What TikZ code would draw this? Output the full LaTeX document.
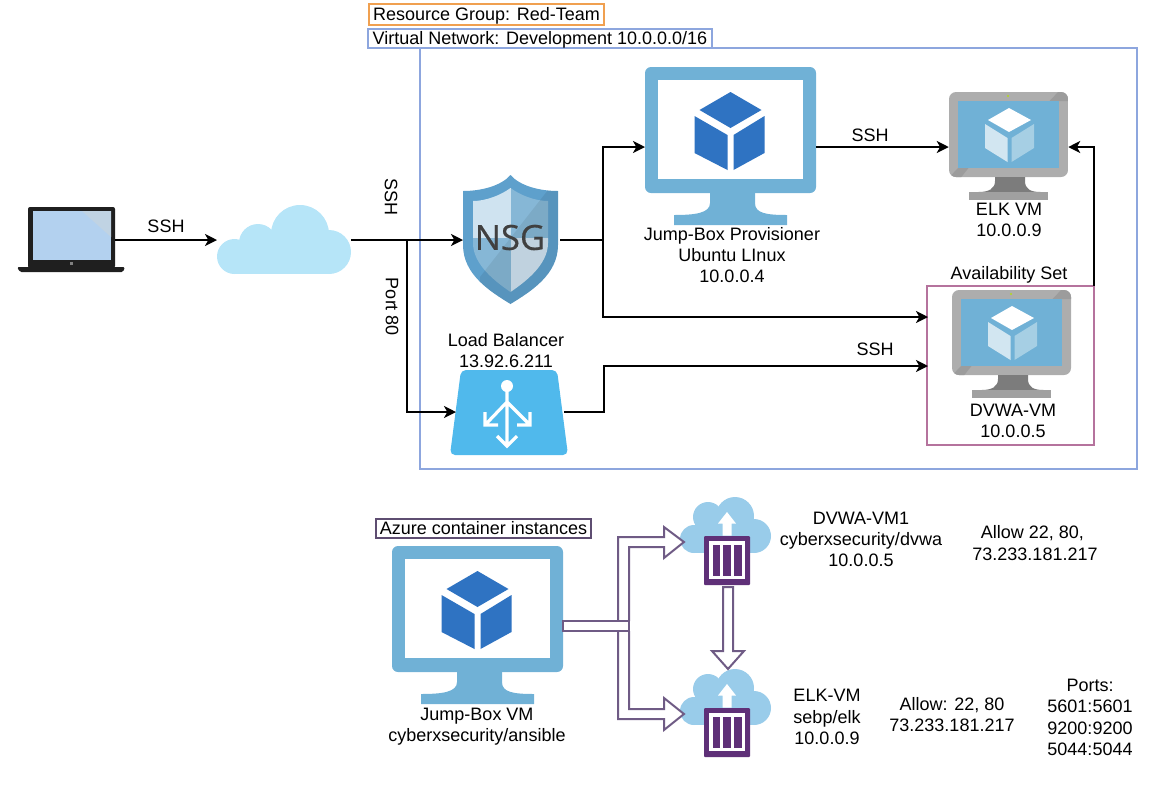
\documentclass[tikz,border=0pt]{standalone}
\usepackage{fontspec}
\setmainfont{Liberation Sans}
\newfontfamily\nsgfont[FakeBold=0.4]{Open Sans}
\usetikzlibrary{arrows.meta}

\definecolor{monblue}{HTML}{70B1D6}
\definecolor{cubeblue}{HTML}{2F73C2}
\definecolor{netblue}{HTML}{8DA6DE}
\definecolor{rgorange}{HTML}{F0A050}
\definecolor{setpink}{HTML}{B5739D}
\definecolor{flowpurple}{HTML}{6F5B85}
\definecolor{boxpurple}{HTML}{5F3078}
\definecolor{cloudpale}{HTML}{B6E5F8}
\definecolor{cloudmid}{HTML}{99CCEA}
\definecolor{lbblue}{HTML}{50B9EC}
\definecolor{shieldblue}{HTML}{5EA0CC}
\definecolor{shieldpale}{HTML}{CFE3F0}
\definecolor{shieldmid}{HTML}{86B7D6}
\definecolor{laptopblue}{HTML}{B3D1EF}
\definecolor{laptopglare}{HTML}{C0D3E3}
\definecolor{facepale}{HTML}{D2E6F1}
\definecolor{facemid}{HTML}{A6CFE4}
\definecolor{bezelgrey}{HTML}{ADADAD}
\definecolor{wedgegrey}{HTML}{9C9C9C}
\definecolor{standgrey}{HTML}{7C7C7C}
\definecolor{basegrey}{HTML}{A0A0A0}

\def\px{0.75pt}

\tikzset{
  conn/.style={line width=1.5pt,-{Stealth[length=9pt,width=9pt,inset=2.5pt]}},
  plainconn/.style={line width=1.5pt},
  lbl/.style={align=center,inner sep=0pt},
  iconbox/.style={inner sep=0pt,outer sep=0pt,minimum height=20*\px},
  tagbox/.style={draw,line width=1.5pt,inner sep=0pt,outer sep=0pt,minimum height=19*\px,text height=11.3pt,text depth=2pt},
  flow/.style={draw=flowpurple,fill=white,line width=1.5pt},
  % blue monitor, origin is the middle of the cube
  monitorblue/.pic={
    \fill[monblue,rounded corners=6*\px] (-85.5,-61) rectangle (85.5,65);
    \fill[white] (-72.5,-48) rectangle (72.5,51);
    \fill[monblue] (-20.5,65) -- (-20.5,75) .. controls (-20.5,85) and (-35,87) .. (-56.5,87)
      -- (-56.5,97) -- (56.5,97) -- (56.5,87) .. controls (35,87) and (24.5,85) .. (24.5,75)
      -- (24.5,65) -- cycle;
    \fill[cubeblue] (0,-36) -- (31,-18) -- (0,0) -- (-31,-18) -- cycle;
    \fill[cubeblue] (-36,-12) -- (-3,7) -- (-3,42) -- (-36,25) -- cycle;
    \fill[cubeblue] (3,7) -- (34,-12) -- (34,25) -- (3,42) -- cycle;
  },
  % grey monitor, origin is the middle of the cube
  monitorgrey/.pic={
    \begin{scope}
    \clip[rounded corners=7*\px] (-59.5,-41) rectangle (59.5,44);
    \fill[bezelgrey] (-60,-42) rectangle (60,45);
    \fill[wedgegrey] (-50.5,35) -- (-40,35) -- (-48,45) -- (-60,45) -- cycle;
    \fill[wedgegrey] (50.5,-32) -- (41,-32) -- (50.5,-42) -- (60,-42) -- (60,-32) -- cycle;
    \end{scope}
    \fill[monblue] (-50.5,-32) rectangle (50.5,35);
    \fill[standgrey] (-13.5,44) -- (-13.5,48) .. controls (-13.5,56) and (-20,59) .. (-30,59)
      -- (32,59) .. controls (22,59) and (16.5,56) .. (16.5,48) -- (16.5,44) -- cycle;
    \fill[basegrey] (-39.5,59) rectangle (39.5,67);
    \fill[yellow!70!green] (-0.5,-37) circle (1.2);
    \fill[white] (0.5,-25) -- (22.5,-13) -- (0.5,-1) -- (-20.5,-13) -- cycle;
    \fill[facepale] (-23.5,-9) -- (-1,5) -- (-1,29) -- (-23.5,15) -- cycle;
    \fill[facemid] (3,5) -- (25.5,-9) -- (25.5,15) -- (3,29) -- cycle;
  },
  % container cloud, origin is the middle of the square
  containericon/.pic={
    \fill[cloudmid] (-33,-21.5) circle (14);
    \fill[cloudmid] (-19,-43.5) circle (15);
    \fill[cloudmid] (8,-44.5) circle (19);
    \fill[cloudmid] (27,-24.5) circle (17);
    \fill[cloudmid] (-33,-35) rectangle (27,-7.5);
    \fill[cloudmid] (-19,-45) rectangle (27,-20);
    \fill[white] (-4.5,-25) -- (-4.5,-37) -- (-9,-37) -- (0,-48.5) -- (9,-37) -- (4.5,-37) -- (4.5,-25) -- cycle;
    \fill[boxpurple,rounded corners=1*\px] (-23,-24.5) rectangle (23,24.5);
    \fill[white] (-18,-19.5) rectangle (18,18.5);
    \fill[boxpurple] (-14.3,-15.5) rectangle (-7,15.5);
    \fill[boxpurple] (-3.7,-15.5) rectangle (3.7,15.5);
    \fill[boxpurple] (7.3,-15.5) rectangle (14.7,15.5);
  }
}

\begin{document}
\begin{tikzpicture}[x=0.75pt,y=-0.75pt,font=\fontsize{13.5}{16}\selectfont]
\useasboundingbox (0,0) rectangle (1172,794);

% Network frames and their labels
\node[iconbox,draw=netblue,line width=1.5pt,minimum width=717*\px,minimum height=421*\px] (vnet) at (778.5,258.5) {};
\node[tagbox,draw=rgorange,minimum width=235*\px,minimum height=21*\px] (rgtag) at (486.5,14.5) {Resource Group: Red-Team};
\node[tagbox,draw=netblue,minimum width=344*\px] (vnettag) at (540,38.5) {Virtual Network: Development 10.0.0.0/16};

% Laptop
\fill[black!88,rounded corners=2*\px] (28,207) rectangle (115,268);
\fill[black!88,rounded corners=1.5*\px] (17,267) -- (125,267) -- (123,272) -- (20,272) -- cycle;
\fill[laptopblue] (33,211) rectangle (111,260);
\fill[laptopglare] (82,211) -- (111,211) -- (111,237) -- cycle;
\fill[gray] (69.5,261.5) rectangle (72.5,264.5);
\node[iconbox,minimum width=87*\px] (laptop) at (71.5,240) {};

% Cloud
\fill[cloudpale] (234.5,256.5) circle (17.5);
\fill[cloudpale] (258,243) circle (19);
\fill[cloudpale] (300,234) circle (29);
\fill[cloudpale] (329,252) circle (22);
\fill[cloudpale] (234.5,245) rectangle (329,274);
\node[iconbox,minimum width=134*\px] (cloud) at (284,240) {};

% NSG shield
\fill[shieldblue] (510.5,175) .. controls (520,186) and (540,191) .. (558,191) -- (558,245)
  .. controls (558,275) and (530,292) .. (510.5,304) .. controls (491,292) and (463,275) .. (463,245)
  -- (463,191) .. controls (481,191) and (501,186) .. (510.5,175) -- cycle;
\begin{scope}
\clip (510.5,188) .. controls (520,195) and (535,201) .. (548,201) -- (548,243)
  .. controls (548,265) and (525,282) .. (510.5,292) .. controls (496,282) and (473,265) .. (473,243)
  -- (473,201) .. controls (486,201) and (501,195) .. (510.5,188) -- cycle;
\fill[shieldpale] (463,175) rectangle (510.5,238);
\fill[shieldmid] (510.5,175) rectangle (558,238);
\fill[shieldmid] (463,238) rectangle (510.5,304);
\fill[shieldpale] (510.5,238) rectangle (558,304);
\end{scope}
\begin{scope}
\clip (510.5,175) .. controls (520,186) and (540,191) .. (558,191) -- (558,245)
  .. controls (558,275) and (530,292) .. (510.5,304) .. controls (491,292) and (463,275) .. (463,245)
  -- (463,191) .. controls (481,191) and (501,186) .. (510.5,175) -- cycle;
\fill[black,opacity=0.07] (480,277) -- (548,190) -- (570,190) -- (570,310) -- (480,310) -- cycle;
\end{scope}
\node[lbl,text=black!75,font=\nsgfont\fontsize{26}{26}\selectfont] (nsgtext) at (510,237.5) {NSG};
\node[iconbox,minimum width=97*\px] (nsg) at (511.5,240) {};

% Load balancer
\fill[lbblue,rounded corners=5*\px] (461,370) -- (557,370) -- (568,455) -- (450,455) -- cycle;
\draw[white,line width=2.4pt] (507,386) -- (507,445) (507,402) -- (485,425) (507,402) -- (530,425)
  (485,412) -- (485,425) -- (498,425) (517,425) -- (530,425) -- (530,412) (497,436) -- (507,446) -- (517,436);
\fill[white] (507,386) circle (6);
\node[iconbox,minimum width=108*\px] (lb) at (510,412) {};
\node[lbl] (lbtext) at (506,350.5) {Load Balancer\\13.92.6.211};

% Top row of machines
\pic at (730.5,128) {monitorblue};
\node[iconbox,minimum width=171*\px] (jumpbox) at (730.5,147) {};
\node[lbl] (jumptext) at (732,255) {Jump-Box Provisioner\\Ubuntu LInux\\10.0.0.4};
\pic at (1008.5,133) {monitorgrey};
\node[iconbox,minimum width=119.5*\px] (elk) at (1008.5,147) {};
\node[lbl] (elktext) at (1009,220) {ELK VM\\10.0.0.9};

% Availability set with DVWA machine
\pic at (1011.5,331) {monitorgrey};
\node[iconbox,draw=setpink,line width=1.5pt,minimum width=167*\px,minimum height=159*\px] (avset) at (1010.5,365.5) {};
\node[lbl] (avsettext) at (1009,275) {Availability Set};
\node[lbl] (dvwatext) at (1013,421) {DVWA-VM\\10.0.0.5};

% Connector ends
\coordinate (cloudsplit) at (407,240);
\coordinate (nsgsplit) at (603,240);
\coordinate (avsetin) at (928,317);
\coordinate (lbbend) at (604,366);
\coordinate (avsetlb) at (928,366);

% Connectors of the top part
\draw[conn] (laptop.east) -- (cloud.west);
\draw[conn] (cloud.east) -- (nsg.west);
\draw[conn] (cloudsplit) |- (lb.west);
\draw[plainconn] (nsg.east) -- (nsgsplit);
\draw[conn] (nsgsplit) |- (jumpbox.west);
\draw[conn] (nsgsplit) |- (avsetin);
\draw[conn] (lb.east) -| (lbbend) -- (avsetlb);
\draw[conn] (jumpbox.east) -- (elk.west);
\draw[conn] (avset.north east) |- (elk.east);

% Connector labels
\node[lbl] (sshlaptop) at (166,226) {SSH};
\node[lbl,rotate=-90] (sshnsg) at (391,197) {SSH};
\node[lbl,rotate=-90] (port) at (392,307) {Port 80};
\node[lbl] (sshelk) at (870,135) {SSH};
\node[lbl] (sshdvwa) at (875,349) {SSH};

% Containers part
\node[tagbox,draw=flowpurple!85!black,minimum width=215*\px] (aci) at (483.5,528) {Azure container instances};
\pic at (477.5,607) {monitorblue};
\node[lbl] (acijump) at (477,726.5) {Jump-Box VM\\cyberxsecurity/ansible};
\pic at (727,560.5) {containericon};
\pic at (727,732.5) {containericon};

% Hollow arrows
\filldraw[flow] (618,621) -- (618,537) -- (664,537) -- (664,527) -- (684,542) -- (664,558) -- (664,547) -- (629,547) -- (629,621);
\filldraw[flow] (618,631) -- (618,719) -- (664,719) -- (664,730) -- (684,714) -- (664,698) -- (664,709) -- (629,709) -- (629,631);
\filldraw[flow] (563,621) rectangle (629,631);
\filldraw[flow] (723,587) -- (733,587) -- (733,651) -- (744,651) -- (728,669) -- (712,651) -- (723,651) -- cycle;

% Text beside the containers
\node[lbl] (dvwaone) at (861,539.5) {DVWA-VM1\\cyberxsecurity/dvwa\\10.0.0.5};
\node[lbl] (dvwaallow) at (1035,543) {Allow 22, 80,\hspace*{4pt}\\73.233.181.217};
\node[lbl] (elkvm) at (827,717) {ELK-VM\\sebp/elk\\10.0.0.9};
\node[lbl] (elkallow) at (952,714.5) {Allow: 22, 80\\73.233.181.217};
\node[lbl] (ports) at (1090,717.5) {Ports:\\5601:5601\\9200:9200\\5044:5044};

\end{tikzpicture}
\end{document}
